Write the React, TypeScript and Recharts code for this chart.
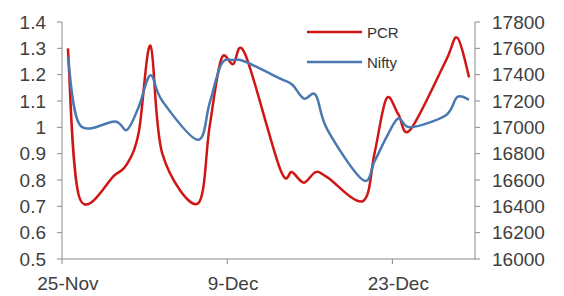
import React from "react";
import { LineChart, Line, XAxis, YAxis, Legend } from "recharts";

// trading days, Nov 25 – Dec 29
const dates = [
  "25-Nov", "26-Nov", "29-Nov", "30-Nov", "1-Dec", "2-Dec", "3-Dec",
  "6-Dec", "7-Dec", "8-Dec", "9-Dec", "10-Dec", "13-Dec", "14-Dec",
  "15-Dec", "16-Dec", "17-Dec", "20-Dec", "21-Dec", "22-Dec", "23-Dec",
  "24-Dec", "27-Dec", "28-Dec", "29-Dec",
];
// calendar day offset from 25-Nov (date axis)
const dayIndex = [0, 1, 4, 5, 6, 7, 8, 11, 12, 13, 14, 15, 18, 19, 20, 21, 22, 25, 26, 27, 28, 29, 32, 33, 34];

const pcr = [
  1.3, 0.73, 0.82, 0.86, 0.98, 1.31, 0.9, 0.71, 1.0, 1.26, 1.24, 1.28, 0.84,
  0.83, 0.79, 0.83, 0.81, 0.72, 0.905, 1.11, 1.05, 0.99, 1.25, 1.34, 1.19,
];
const nifty = [
  17533, 17020, 17045, 16980, 17155, 17395, 17200, 16905, 17180, 17480, 17512,
  17500, 17370, 17325, 17218, 17245, 16980, 16600, 16745, 16925, 17068, 17000,
  17090, 17230, 17210,
];

const seriesOrder = ["PCR", "Nifty"];
const xTicks = [-0.5, 13.5, 27.5];
const xTickLabels = ["25-Nov", "9-Dec", "23-Dec"];
const leftTicks = [0.5, 0.6, 0.7, 0.8, 0.9, 1.0, 1.1, 1.2, 1.3, 1.4];
const rightTicks = [16000, 16200, 16400, 16600, 16800, 17000, 17200, 17400, 17600, 17800];

const data = dates.map((date, i) => ({
  date,
  d: dayIndex[i],
  pcr: pcr[i],
  nifty: nifty[i],
}));

const FONT = "'Liberation Sans', Arial, sans-serif";
const TEXT = "#404040";
const AXIS = "#8a8a8a";
const BAND = 413 / 35;

// Excel-style smoothing (Catmull-Rom bezier)
function excelCurve(context: any) {
  let pts: number[][] = [];
  return {
    areaStart() {},
    areaEnd() {},
    lineStart() {
      pts = [];
    },
    point(x: number, y: number) {
      pts.push([+x, +y]);
    },
    lineEnd() {
      if (!pts.length) return;
      context.moveTo(pts[0][0], pts[0][1]);
      for (let i = 0; i < pts.length - 1; i++) {
        const p0 = pts[i - 1] || pts[i];
        const p1 = pts[i];
        const p2 = pts[i + 1];
        const p3 = pts[i + 2] || p2;
        context.bezierCurveTo(
          p1[0] + (p2[0] - p0[0]) / 6,
          p1[1] + (p2[1] - p0[1]) / 6,
          p2[0] - (p3[0] - p1[0]) / 6,
          p2[1] - (p3[1] - p1[1]) / 6,
          p2[0],
          p2[1],
        );
      }
    },
  };
}

const DateTick = ({ x, y, payload }: any) => {
  const idx = xTicks.indexOf(payload.value);
  return (
    <text
      x={x + BAND / 2}
      y={y + 26}
      textAnchor="middle"
      fill={TEXT}
      fontSize={19}
      fontFamily={FONT}
    >
      {xTickLabels[idx]}
    </text>
  );
};

const LegendBox = ({ payload }: any) => {
  const items = [...(payload || [])].sort(
    (a: any, b: any) => seriesOrder.indexOf(a.value) - seriesOrder.indexOf(b.value),
  );
  return (
    <div style={{ fontFamily: FONT, fontSize: 15, color: "#333" }}>
      {items.map((e: any) => (
        <div key={e.value} style={{ display: "flex", alignItems: "center", height: 30 }}>
          <svg width={55} height={4}>
            <line x1={0} y1={2} x2={55} y2={2} stroke={e.color} strokeWidth={2.5} />
          </svg>
          <span style={{ marginLeft: 5 }}>{e.value}</span>
        </div>
      ))}
    </div>
  );
};

export default function App() {
  return (
    <div style={{ position: "absolute", left: 0, top: 0, background: "#fff" }}>
      <LineChart
        width={564}
        height={296}
        data={data}
        margin={{ top: 22, right: 0, bottom: 0, left: 0 }}
      >
        <XAxis
          dataKey="d"
          type="number"
          domain={[-0.5, 34.5]}
          ticks={xTicks}
          tick={<DateTick />}
          tickSize={5}
          tickMargin={0}
          height={37}
          stroke={AXIS}
          tickLine={{ stroke: AXIS }}
          interval={0}
        />
        <YAxis
          yAxisId="left"
          domain={[0.5, 1.4]}
          ticks={leftTicks}
          tickFormatter={(v: number) => String(Number(v.toFixed(1)))}
          width={62}
          tickSize={5}
          tickMargin={11}
          stroke={AXIS}
          tick={{ fill: TEXT, fontSize: 19, fontFamily: FONT }}
          interval={0}
        />
        <YAxis
          yAxisId="right"
          orientation="right"
          domain={[16000, 17800]}
          ticks={rightTicks}
          width={89}
          tickSize={5}
          tickMargin={12}
          stroke={AXIS}
          tick={{ fill: TEXT, fontSize: 19, fontFamily: FONT, textAnchor: "start" }}
          interval={0}
        />
        <Legend
          layout="vertical"
          align="center"
          verticalAlign="middle"
          content={<LegendBox />}
          wrapperStyle={{ left: 307, top: 17, width: 110 }}
        />
        <Line
          yAxisId="left"
          dataKey="pcr"
          name="PCR"
          type={excelCurve as any}
          stroke="#d01515"
          strokeWidth={2.5}
          dot={false}
          isAnimationActive={false}
        />
        <Line
          yAxisId="right"
          dataKey="nifty"
          name="Nifty"
          type={excelCurve as any}
          stroke="#4a78b0"
          strokeWidth={2.5}
          dot={false}
          isAnimationActive={false}
        />
      </LineChart>
    </div>
  );
}
